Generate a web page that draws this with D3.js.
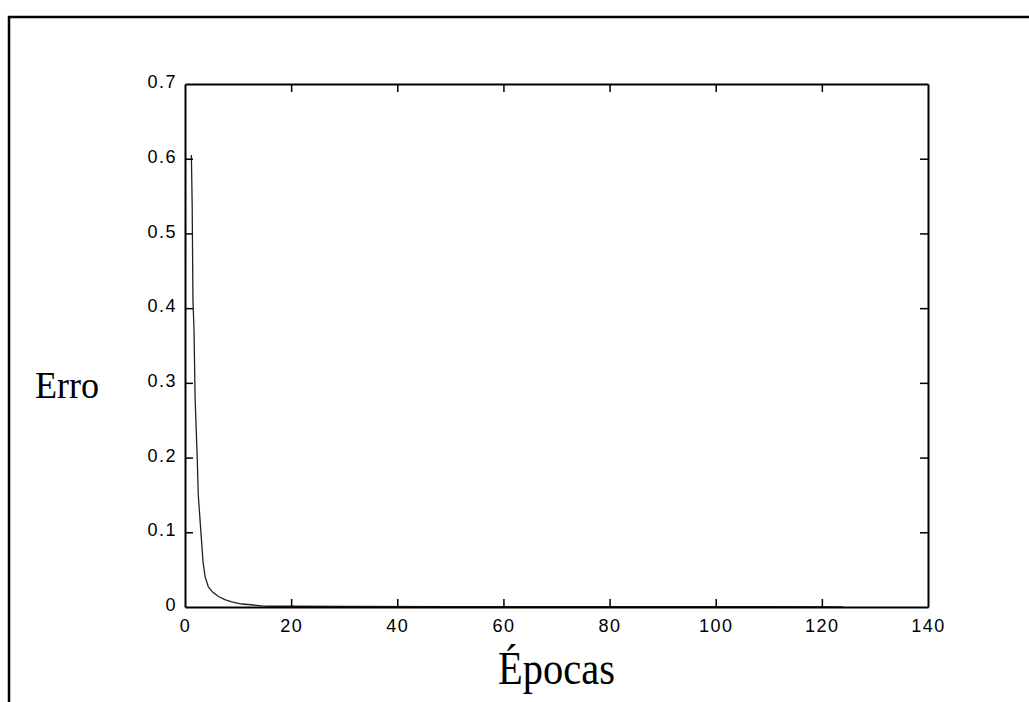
<!DOCTYPE html>
<html><head><meta charset="utf-8">
<script src="https://cdn.jsdelivr.net/npm/d3@7"></script>
<style>body{margin:0;background:#fff}svg{display:block}</style>
</head><body>
<script>
// Data
const epochs = [1.2, 1.35, 1.5, 1.7, 1.9, 2.1, 2.3, 2.5, 2.8, 3.1, 3.4, 3.8, 4.4, 5.2, 6.3, 7.5, 8.8, 10.7, 12.5, 14.4, 16, 20, 30, 50, 80, 100, 124];
const errors = [0.605, 0.54, 0.41, 0.37, 0.28, 0.24, 0.20, 0.15, 0.12, 0.09, 0.06, 0.04, 0.027, 0.02, 0.014, 0.01, 0.007, 0.004, 0.003, 0.0015, 0.001, 0.001, 0.0008, 0.0006, 0.0005, 0.0004, 0.0003];
const xTicks = [0, 20, 40, 60, 80, 100, 120, 140];
const yTicks = [0, 0.1, 0.2, 0.3, 0.4, 0.5, 0.6, 0.7];
const xLabel = "Épocas";
const yLabel = "Erro";

const W = 1029, H = 702;
const svg = d3.select("body").append("svg").attr("width", W).attr("height", H);

// outer frame
svg.append("rect").attr("x", 9).attr("y", 17).attr("width", W + 20).attr("height", H + 20)
  .attr("fill", "none").attr("stroke", "#000").attr("stroke-width", 2.5);

const L = 185, R = 928, T = 84, B = 607;
const x = d3.scaleLinear().domain([0, 140]).range([L, R]);
const y = d3.scaleLinear().domain([0, 0.7]).range([B, T]);

const tickFont = "'Liberation Sans', Arial, sans-serif";

// curve
const pts = epochs.map((e, i) => [e, errors[i]]);
svg.append("path").datum(pts)
  .attr("d", d3.line().x(d => x(d[0])).y(d => y(d[1])))
  .attr("fill", "none").attr("stroke", "#222").attr("stroke-width", 1.3);

// axes with inward ticks
const tl = 8;
const gB = svg.append("g").attr("transform", `translate(0,${B})`)
  .call(d3.axisBottom(x).tickValues(xTicks).tickSizeInner(-tl).tickSizeOuter(0).tickPadding(12).tickFormat(d3.format("d")));
const gT = svg.append("g").attr("transform", `translate(0,${T})`)
  .call(d3.axisTop(x).tickValues(xTicks).tickSizeInner(-tl).tickSizeOuter(0).tickFormat(""));
const gL = svg.append("g").attr("transform", `translate(${L},0)`)
  .call(d3.axisLeft(y).tickValues(yTicks).tickSizeInner(-tl).tickSizeOuter(0).tickPadding(8).tickFormat(d => d === 0 ? "0" : d3.format(".1f")(d)));
const gR = svg.append("g").attr("transform", `translate(${R},0)`)
  .call(d3.axisRight(y).tickValues(yTicks).tickSizeInner(-tl).tickSizeOuter(0).tickFormat(""));

[gB, gT, gL, gR].forEach(g => {
  g.select(".domain").attr("stroke", "#000").attr("stroke-width", 2);
  g.selectAll(".tick line").attr("stroke", "#000").attr("stroke-width", 1.5);
  g.selectAll("text").attr("font-family", tickFont).attr("font-size", 18).attr("fill", "#000").attr("letter-spacing", 1.5);
});
gL.selectAll(".tick text").attr("dy", "0.2em");
// hide end ticks overlapping frame
gB.selectAll(".tick").filter(d => d === 0 || d === 140).select("line").remove();
gT.selectAll(".tick").filter(d => d === 0 || d === 140).select("line").remove();
gL.selectAll(".tick").filter(d => d === 0 || d === 0.7).select("line").remove();
gR.selectAll(".tick").filter(d => d === 0 || d === 0.7).select("line").remove();

// axis titles
svg.append("text").attr("transform", `translate(${(L + R) / 2},684) scale(0.88,1)`).attr("text-anchor", "middle")
  .attr("font-family", "'Liberation Serif', 'Times New Roman', serif").attr("font-size", 46)
  .text(xLabel);
svg.append("text").attr("transform", "translate(35,398) scale(0.95,1)").attr("text-anchor", "start")
  .attr("font-family", "'Liberation Serif', 'Times New Roman', serif").attr("font-size", 38)
  .text(yLabel);
</script>
</body></html>
